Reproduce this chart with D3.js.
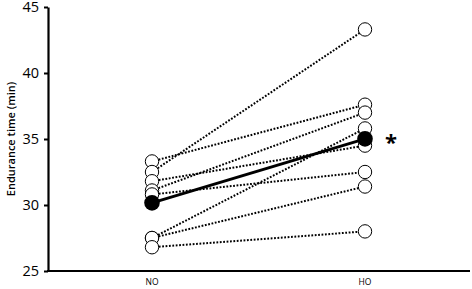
<!DOCTYPE html>
<html>
<head>
<meta charset="utf-8">
<script src="https://cdn.jsdelivr.net/npm/d3@7"></script>
<style>
  html, body { margin: 0; padding: 0; background: #fff; }
  svg { display: block; font-family: "Open Sans", "Liberation Sans", sans-serif; }
</style>
</head>
<body>
<svg id="chart" width="472" height="289"></svg>
<script>
  // conditions on the x axis
  const conditions = ["NO", "HO"];
  // one entry per subject, endurance time (min)
  const noValues = [33.3, 32.5, 31.8, 31.1, 30.8, 27.5, 27.5, 26.8];
  const hoValues = [37.6, 43.3, 34.5, 37.0, 32.5, 35.8, 31.4, 28.0];
  const yTicks = [25, 30, 35, 40, 45];

  const svg = d3.select("#chart");

  const x = d3.scalePoint().domain(conditions).range([152, 365]);
  const y = d3.scaleLinear().domain([25, 45]).range([271, 7]);
  const axisX0 = 48, axisX1 = 470;

  const subjects = noValues.map((v, i) => ({ NO: v, HO: hoValues[i] }));
  const means = { NO: d3.mean(noValues), HO: d3.mean(hoValues) };

  // ------------------------------------------------------------
  // Axes
  // ------------------------------------------------------------
  const yAxis = svg.append("g")
    .attr("transform", `translate(${axisX0},0)`)
    .call(d3.axisLeft(y).tickValues(yTicks).tickSize(4).tickSizeOuter(0).tickPadding(5));
  yAxis.select(".domain").attr("stroke", "#000").attr("stroke-width", 2.2);
  yAxis.selectAll(".tick line").attr("stroke", "#000").attr("stroke-width", 2);
  yAxis.selectAll(".tick text")
    .attr("font-size", 14.5).attr("fill", "#000")
    .attr("font-family", "Open Sans, sans-serif");

  svg.append("line")
    .attr("x1", axisX0 - 1).attr("x2", axisX1)
    .attr("y1", y(25)).attr("y2", y(25))
    .attr("stroke", "#000").attr("stroke-width", 2.2);

  svg.selectAll(".xlab")
    .data(conditions)
    .enter().append("text")
    .attr("class", "xlab")
    .attr("x", d => x(d))
    .attr("y", 285)
    .attr("text-anchor", "middle")
    .attr("font-size", 8.5)
    .attr("fill", "#000")
    .text(d => d);

  svg.append("text")
    .attr("transform", "translate(15,139) rotate(-90)")
    .attr("text-anchor", "middle")
    .attr("font-size", 11)
    .attr("font-weight", 600)
    .text("Endurance time (min)");

  // ------------------------------------------------------------
  // Individual subjects (dotted)
  // ------------------------------------------------------------
  svg.selectAll(".subject")
    .data(subjects)
    .enter().append("line")
    .attr("class", "subject")
    .attr("x1", x("NO")).attr("y1", d => y(d.NO))
    .attr("x2", x("HO")).attr("y2", d => y(d.HO))
    .attr("stroke", "#000")
    .attr("stroke-width", 2)
    .attr("stroke-dasharray", "1.8,1.6");

  const points = [];
  subjects.forEach(s => conditions.forEach(c => points.push({ c: c, v: s[c] })));

  svg.selectAll(".pt")
    .data(points)
    .enter().append("circle")
    .attr("class", "pt")
    .attr("cx", d => x(d.c))
    .attr("cy", d => y(d.v))
    .attr("r", 6.7)
    .attr("fill", "#fff")
    .attr("stroke", "#000")
    .attr("stroke-width", 1);

  // ------------------------------------------------------------
  // Group mean
  // ------------------------------------------------------------
  svg.append("line")
    .attr("x1", x("NO")).attr("y1", y(means.NO))
    .attr("x2", x("HO")).attr("y2", y(means.HO))
    .attr("stroke", "#000")
    .attr("stroke-width", 3);

  svg.selectAll(".mean")
    .data(conditions)
    .enter().append("circle")
    .attr("class", "mean")
    .attr("cx", d => x(d))
    .attr("cy", d => y(means[d]))
    .attr("r", 7.8)
    .attr("fill", "#000");

  svg.append("text")
    .attr("x", x("HO") + 26)
    .attr("y", y(means.HO) + 11)
    .attr("text-anchor", "middle")
    .attr("font-size", 22)
    .attr("font-weight", 700)
    .text("*");
</script>
</body>
</html>
